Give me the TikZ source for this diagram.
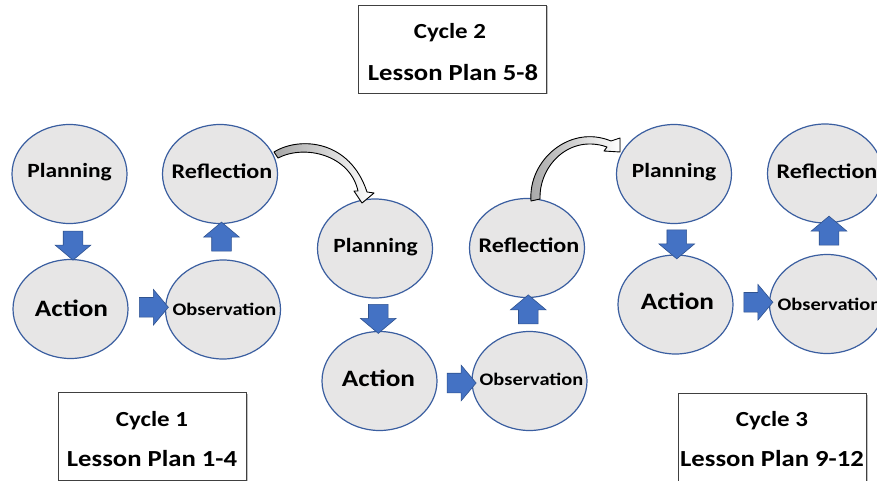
\documentclass[tikz,border=0pt]{standalone}
\usepackage{fontspec}
\setmainfont{Carlito}[FakeStretch=1.16]
\usetikzlibrary{shapes.geometric,shapes.arrows,calc,shadows}
\definecolor{ellfill}{RGB}{231,230,230}
\definecolor{elldraw}{RGB}{58,94,160}
\definecolor{arrfill}{RGB}{68,114,196}
\definecolor{arrdraw}{RGB}{47,82,143}
\begin{document}
\begin{tikzpicture}[x=1pt,y=-1pt,
  stage/.style={ellipse, draw=elldraw, fill=ellfill, line width=1.2pt,
    minimum width=115pt, minimum height=99pt, inner sep=0pt},
  lbl/.style={anchor=base, inner sep=0pt, font=\bfseries},
  fplan/.style={font=\fontsize{20.2}{24}\selectfont\bfseries},
  frefl/.style={font=\fontsize{20.8}{24}\selectfont\bfseries},
  fact/.style={font=\fontsize{23.5}{27}\selectfont\bfseries},
  fobs/.style={font=\fontsize{17.6}{21}\selectfont\bfseries},
  fbox/.style={font=\fontsize{21.5}{26}\selectfont\bfseries},
  fboxb/.style={font=\fontsize{23}{26}\selectfont\bfseries},
  blk/.style={single arrow, draw=arrdraw, fill=arrfill, line width=0.6pt,
    inner xsep=0pt, inner ysep=9.5pt, minimum height=29pt,
    single arrow head extend=8pt, single arrow tip angle=100},
  cyclebox/.style={rectangle, draw=black!75, fill=white, line width=0.9pt,
    minimum width=188pt, minimum height=88pt, inner sep=0pt,
    drop shadow={shadow xshift=1.5pt, shadow yshift=-1.5pt, fill=black!30, opacity=0.8}},
  curv/.style={draw=black, line width=0.9pt, line join=round,
    left color=black!35, right color=white}
]
\useasboundingbox (0,0) rectangle (877,481);
\fill[white] (0,0) rectangle (877,481);

% Cycle 1
\node[stage] (p1) at (69.5,174) {};
\node[stage] (r1) at (220,174) {};
\node[stage] (a1) at (70.5,309) {};
\node[stage] (o1) at (223,309.5) {};
% Cycle 2
\node[stage] (p2) at (375,248.5) {};
\node[stage] (r2) at (527,248) {};
\node[stage] (a2) at (379.5,381) {};
\node[stage] (o2) at (529.5,381) {};
% Cycle 3
\node[stage] (p3) at (674,174) {};
\node[stage] (r3) at (825,173.5) {};
\node[stage] (a3) at (675.5,304.5) {};
\node[stage] (o3) at (827,304) {};

% labels
\node[lbl,fplan] (tp1) at ($(p1)+(0,3.5)$) {Planning};
\node[lbl,frefl] (tr1) at ($(r1)+(2,4.5)$) {Reflection};
\node[lbl,fact]  (ta1) at ($(a1)+(1,7)$) {Action};
\node[lbl,fobs]  (to1) at ($(o1)+(1.5,5.5)$) {Observation};
\node[lbl,fplan] (tp2) at ($(p2)+(0.5,4)$) {Planning};
\node[lbl,frefl] (tr2) at ($(r2)+(2,4.5)$) {Reflection};
\node[lbl,fact]  (ta2) at ($(a2)+(-1,5)$) {Action};
\node[lbl,fobs]  (to2) at ($(o2)+(2,4.5)$) {Observation};
\node[lbl,fplan] (tp3) at ($(p3)+(0,3.5)$) {Planning};
\node[lbl,frefl] (tr3) at ($(r3)+(2,5)$) {Reflection};
\node[lbl,fact]  (ta3) at ($(a3)+(2,5)$) {Action};
\node[lbl,fobs]  (to3) at ($(o3)+(2.5,6)$) {Observation};

% block arrows
\node[blk, rotate=-90] (d1) at ($(p1.south)!0.5!(a1.north)+(3,0)$) {};
\node[blk, rotate=0]   (h1) at ($(a1.east)!0.5!(o1.west)+(3,-2)$) {};
\node[blk, rotate=90]  (u1) at ($(o1.north)!0.5!(r1.south)+(0,-1)$) {};
\node[blk, rotate=-90] (d2) at ($(p2.south)!0.5!(a2.north)+(1,0)$) {};
\node[blk, rotate=0]   (h2) at ($(a2.east)!0.5!(o2.west)+(3,2)$) {};
\node[blk, rotate=90]  (u2) at ($(o2.north)!0.5!(r2.south)+(0,-1)$) {};
\node[blk, rotate=-90] (d3) at ($(p3.south)!0.5!(a3.north)+(2,1)$) {};
\node[blk, rotate=0]   (h3) at ($(a3.east)!0.5!(o3.west)+(3,-2)$) {};
\node[blk, rotate=90]  (u3) at ($(o3.north)!0.5!(r3.south)+(3,-4)$) {};

% curved arrows
\filldraw[curv] (274,152) .. controls (300,136) and (350,140) .. (367,192)
  -- (374,193) -- (362,203) -- (354,191) -- (358,191)
  .. controls (350,155) and (305,144) .. (278,158) -- cycle;
\filldraw[curv] (531,201) .. controls (528,160) and (570,124) .. (611,141)
  -- (620,138) -- (620,152) -- (604,151) -- (607,147)
  .. controls (570,134) and (539,165) .. (540,199) -- cycle;

% cycle boxes
\node[cyclebox] (b2) at (452,49) {};
\node[lbl,fbox]  (b2a) at (450,39) {Cycle 2};
\node[lbl,fboxb] (b2b) at (453,81) {Lesson Plan 5-8};
\node[cyclebox] (b1) at (152,436) {};
\node[lbl,fbox]  (b1a) at (152,426) {Cycle 1};
\node[lbl,fboxb] (b1b) at (152,466) {Lesson Plan 1-4};
\node[cyclebox] (b3) at (772,437) {};
\node[lbl,fbox]  (b3a) at (772,426) {Cycle 3};
\node[lbl,fboxb] (b3b) at (772,466) {Lesson Plan 9-12};
\end{tikzpicture}
\end{document}
